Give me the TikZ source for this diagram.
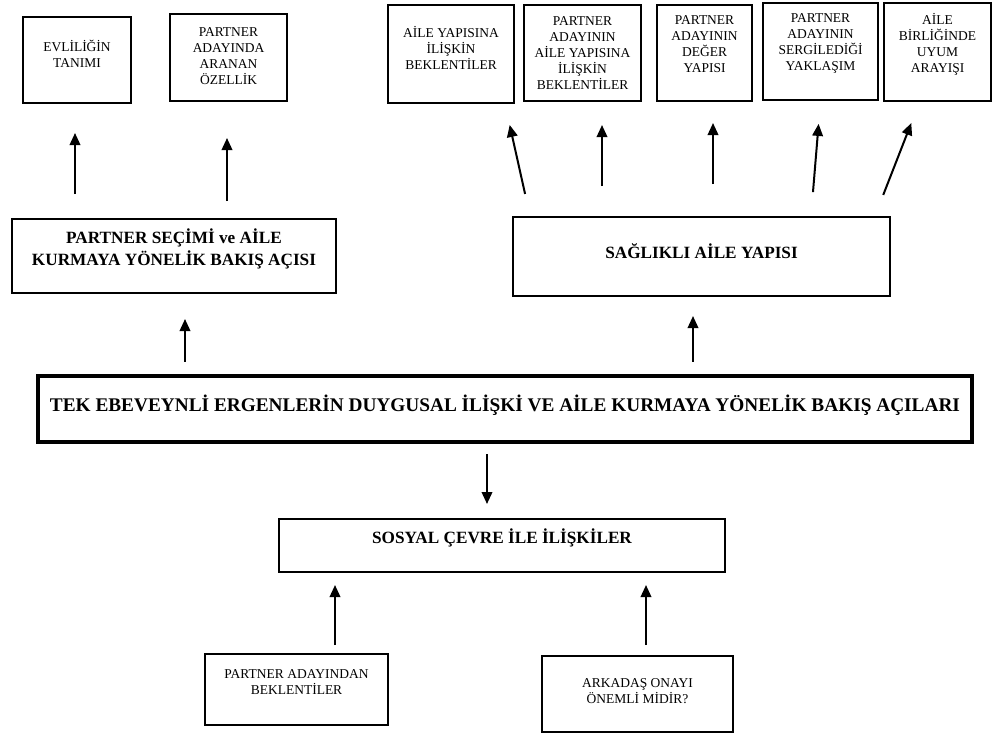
\documentclass[tikz,border=0pt]{standalone}
\usepackage{fontspec}
\setmainfont{Liberation Serif}
\usetikzlibrary{arrows.meta}

\tikzset{
  box/.style={draw, line width=2pt, inner sep=0pt},
  txt/.style={align=center, font=\fontsize{13.5}{16}\selectfont},
  btxt/.style={align=center, font=\bfseries\fontsize{17.2}{21.7}\selectfont},
  arr/.style={-{Triangle[length=12pt,width=10.5pt]}, line width=2pt},
}

\begin{document}
\begin{tikzpicture}[x=1pt, y=-1pt]
\useasboundingbox (0,0) rectangle (995,733);

% Top row, left
\node [box, minimum width=108, minimum height=86] (tanim) at (77,60) {};
\node [txt, yshift=6] at (tanim) {EVLİLİĞİN\\TANIMI};
\node [box, minimum width=117, minimum height=87] (ozellik) at (228.5,57.5) {};
\node [txt, yshift=1] at (ozellik) {PARTNER\\ADAYINDA\\ARANAN\\ÖZELLİK};

% Top row, right
\node [box, minimum width=126, minimum height=98] (aileBek) at (451,54) {};
\node [txt, yshift=6] at (aileBek) {AİLE YAPISINA\\İLİŞKİN\\BEKLENTİLER};
\node [box, minimum width=117, minimum height=96] (adayAile) at (582.5,53) {};
\node [txt] at (adayAile) {PARTNER\\ADAYININ\\AİLE YAPISINA\\İLİŞKİN\\BEKLENTİLER};
\node [box, minimum width=95, minimum height=96] (deger) at (704.5,53) {};
\node [txt, yshift=9] at (deger) {PARTNER\\ADAYININ\\DEĞER\\YAPISI};
\node [box, minimum width=115, minimum height=97] (sergi) at (820.5,51.5) {};
\node [txt, yshift=8] at (sergi) {PARTNER\\ADAYININ\\SERGİLEDİĞİ\\YAKLAŞIM};
\node [box, minimum width=107, minimum height=98] (birlik) at (937.5,52) {};
\node [txt, yshift=8] at (birlik) {AİLE\\BİRLİĞİNDE\\UYUM\\ARAYIŞI};

% Second level
\node [box, minimum width=324, minimum height=74] (secim) at (174,256) {};
\node [btxt, yshift=7] at (secim) {PARTNER SEÇİMİ ve AİLE\\KURMAYA YÖNELİK BAKIŞ AÇISI};
\node [box, minimum width=377, minimum height=79] (saglik) at (701.5,256.5) {};
\node [btxt, yshift=5] at (saglik) {SAĞLIKLI AİLE YAPISI};

% Main theme
\node [box, line width=4.5pt, minimum width=934, minimum height=66] (tema) at (505,409) {};
\node [font=\bfseries\fontsize{19.3}{23}\selectfont, yshift=4] at (tema) {TEK EBEVEYNLİ ERGENLERİN DUYGUSAL İLİŞKİ VE AİLE KURMAYA YÖNELİK BAKIŞ AÇILARI};

% Social environment
\node [box, minimum width=446, minimum height=53] (sosyal) at (502,545.5) {};
\node [btxt, yshift=8] at (sosyal) {SOSYAL ÇEVRE İLE İLİŞKİLER};
\node [box, minimum width=183, minimum height=71] (beklenti) at (296.5,689.5) {};
\node [txt, yshift=7] at (beklenti) {PARTNER ADAYINDAN\\BEKLENTİLER};
\node [box, minimum width=191, minimum height=76] (onay) at (637.5,694) {};
\node [txt, yshift=3] at (onay) {ARKADAŞ ONAYI\\ÖNEMLİ MİDİR?};

% Arrows, left branch
\draw [arr, shorten <=24pt, shorten >=29pt] ([xshift=-2pt]secim.north -| tanim.south) -- ([xshift=-2pt]tanim.south);
\draw [arr, shorten <=17pt, shorten >=36pt] ([xshift=-1.5pt]secim.north -| ozellik.south) -- ([xshift=-1.5pt]ozellik.south);

% Arrows, right branch
\draw [arr, shorten <=22.6pt, shorten >=21.5pt] ([xshift=18pt]saglik.north west) -- ([xshift=54pt]aileBek.south);
\draw [arr, shorten <=30pt, shorten >=23pt] ([xshift=19.5pt]saglik.north -| adayAile.south) -- ([xshift=19.5pt]adayAile.south);
\draw [arr, shorten <=32pt, shorten >=21pt] ([xshift=8.5pt]saglik.north -| deger.south) -- ([xshift=8.5pt]deger.south);
\draw [arr, shorten <=24pt, shorten >=23pt] ([xshift=-80pt]saglik.north east) -- (sergi.south);
\draw [arr, shorten <=22.6pt, shorten >=22.6pt] ([xshift=-16pt]saglik.north east) -- ([xshift=-18pt]birlik.south);

% Arrows from the main theme
\draw [arr, shorten <=12pt, shorten >=25pt] ([xshift=11pt]tema.north -| secim.south) -- ([xshift=11pt]secim.south);
\draw [arr, shorten <=12pt, shorten >=19pt] ([xshift=-8.5pt]tema.north -| saglik.south) -- ([xshift=-8.5pt]saglik.south);
\draw [arr, shorten <=10pt, shorten >=14pt] ([xshift=-15pt]tema.south -| sosyal.north) -- ([xshift=-15pt]sosyal.north);

% Arrows into social environment
\draw [arr, shorten <=8pt, shorten >=12pt] ([xshift=38.5pt]beklenti.north) -- ([xshift=38.5pt]sosyal.south -| beklenti.north);
\draw [arr, shorten <=10pt, shorten >=12pt] ([xshift=8.5pt]onay.north) -- ([xshift=8.5pt]sosyal.south -| onay.north);

\end{tikzpicture}
\end{document}
